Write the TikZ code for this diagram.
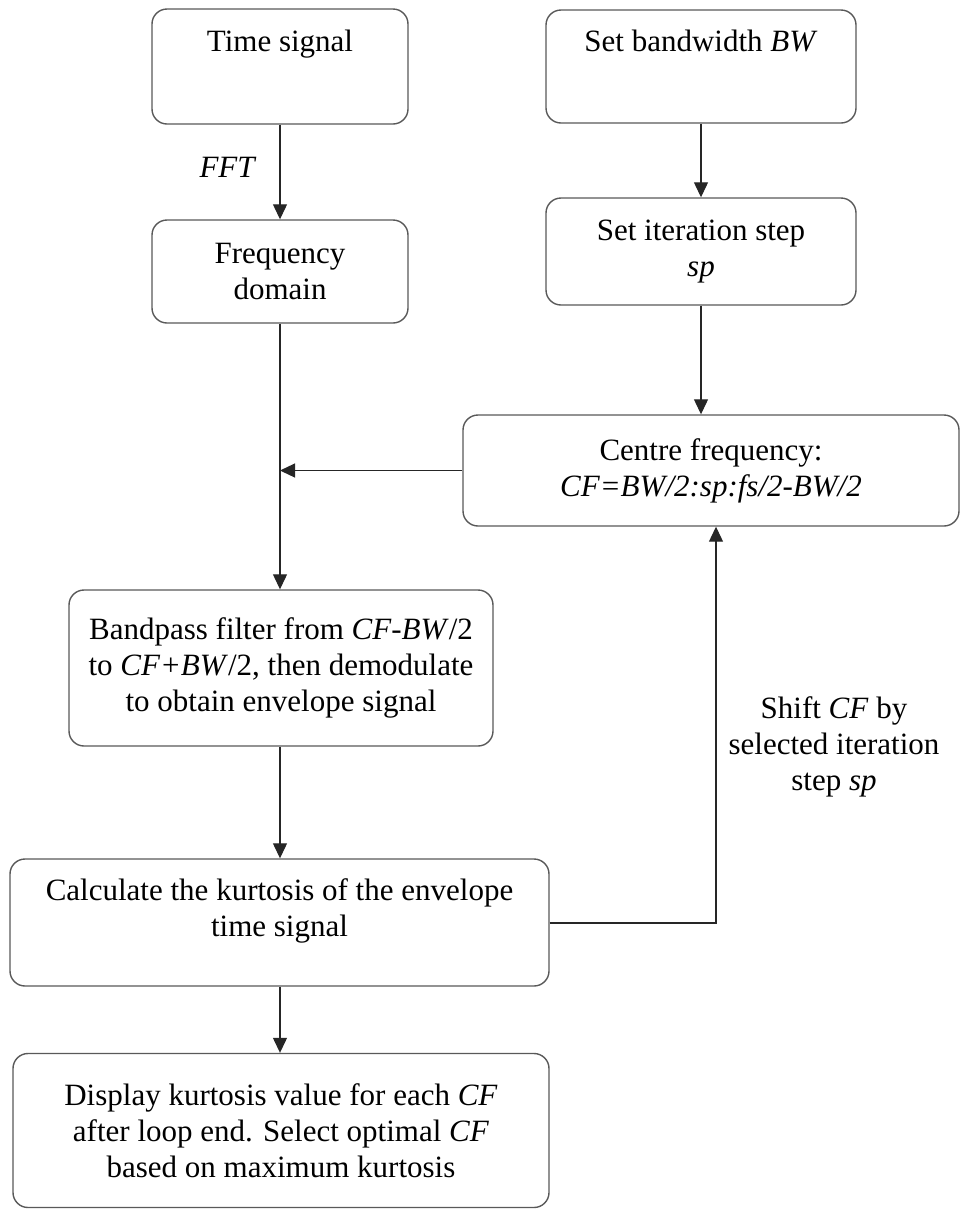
\documentclass[tikz,border=0pt]{standalone}
\usepackage{fontspec}
\setmainfont{Liberation Serif}
\usetikzlibrary{arrows.meta}
\begin{document}
\begin{tikzpicture}[x=1pt,y=-1pt,
  box/.style={draw=black!65, line width=1.4pt, rounded corners=15pt, align=center, inner sep=0pt, fill=white,
    font=\fontsize{31}{36}\selectfont},
  conn/.style={draw=black!85, line width=1.2pt},
  arr/.style={conn, -{Triangle[length=15pt,width=14pt]}},
  lbl/.style={align=center, inner sep=0pt, font=\fontsize{31}{36}\selectfont}]
\useasboundingbox (0,0) rectangle (960,1211);
\node[box, minimum width=256pt, minimum height=115pt] (time) at (280,66.5) {Time signal\\[16pt]\mbox{}};
\node[box, minimum width=310pt, minimum height=113pt] (bw) at (701,66.5) {Set bandwidth \textit{BW}\\[16pt]\mbox{}};
\node[box, minimum width=256pt, minimum height=103pt] (freq) at (280,271.5) {Frequency\\domain};
\node[box, minimum width=310pt, minimum height=107pt] (step) at (701,251.5) {Set iteration step\\\textit{sp}};
\node[box, minimum width=496pt, minimum height=111pt] (cf) at (711,470.5) {Centre frequency:\\\textit{CF=BW/2:sp:fs/2-BW/2}};
\node[box, minimum width=424pt, minimum height=156pt] (bp) at (281,668) {Bandpass filter from \textit{CF-BW}/2\\to \textit{CF+BW}/2, then demodulate\\to obtain envelope signal};
\node[box, minimum width=539pt, minimum height=127pt] (calc) at (279.5,922.5) {Calculate the kurtosis of the envelope\\time signal\\[-6pt]\mbox{}};
\node[box, minimum width=536pt, minimum height=154pt] (disp) at (281,1130.5) {Display kurtosis value for each \textit{CF}\\after loop end. Select optimal \textit{CF}\\based on maximum kurtosis};
\node[lbl] (fft) at (228,167) {\textit{FFT}};
\node[lbl] (shift) at (834,747) {Shift \textit{CF} by\\selected iteration\\step \textit{sp}};
\coordinate (loop) at (716,923);
\draw[arr] (time.south) -- (freq.north);
\draw[arr] (bw.south) -- (step.north);
\draw[arr] (step.south) -- (step.south |- cf.north);
\draw[arr] (freq.south) -- (freq.south |- bp.north);
\draw[arr] (cf.west) -- (cf.west -| freq.south);
\draw[arr] (bp.south -| freq.south) -- (calc.north -| freq.south);
\draw[arr] (calc.south -| freq.south) -- (disp.north -| freq.south);
\draw[arr] (calc.east |- loop) -- (loop) -- (loop |- cf.south);
\end{tikzpicture}
\end{document}
